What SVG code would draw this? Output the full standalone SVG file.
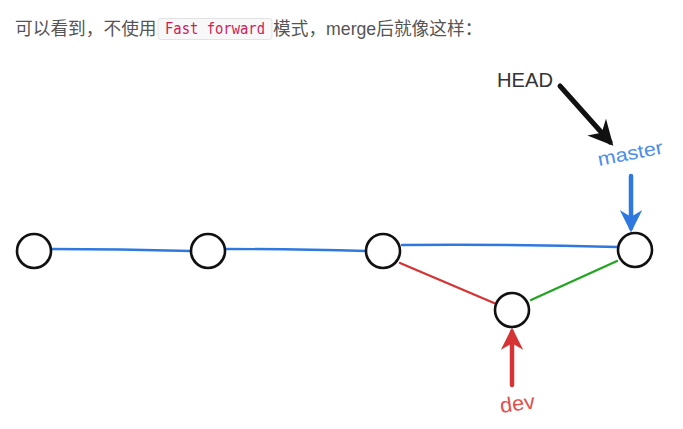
<svg xmlns="http://www.w3.org/2000/svg" width="683" height="429" viewBox="0 0 683 429">
<style>
.hdr{font-family:"Liberation Sans","Noto Sans CJK SC",sans-serif;font-size:17.7px;fill:#555}
.code{font-family:"DejaVu Sans Mono","Liberation Mono",monospace;font-size:15px;fill:#d01a56}
.node{fill:#fff;stroke:#111;stroke-width:2.6}
.blue{stroke:#2f78e0;stroke-width:2.4;fill:none;stroke-linecap:round}
.red{stroke:#d63434;stroke-width:2.4;fill:none;stroke-linecap:round}
.green{stroke:#22a622;stroke-width:2.4;fill:none;stroke-linecap:round}
.lbl{font-family:"Liberation Sans",sans-serif}
</style>
<defs>
<marker id="ahBlack" viewBox="0 0 10 10" refX="8" refY="5" markerWidth="5" markerHeight="5" orient="auto" markerUnits="strokeWidth"><path d="M0,0 L10,5 L0,10 L3,5 Z" fill="#111"/></marker>
<marker id="ahBlue" viewBox="0 0 10 10" refX="8" refY="5" markerWidth="5" markerHeight="5" orient="auto" markerUnits="strokeWidth"><path d="M0,0 L10,5 L0,10 L3,5 Z" fill="#2f78e0"/></marker>
<marker id="ahRed" viewBox="0 0 10 10" refX="8" refY="5" markerWidth="5" markerHeight="5" orient="auto" markerUnits="strokeWidth"><path d="M0,0 L10,5 L0,10 L3,5 Z" fill="#d63434"/></marker>
</defs>
<rect width="683" height="429" fill="#fff"/>
<g id="header">
<text class="hdr" x="15" y="35">可以看到，不使用</text>
<rect x="158" y="18.5" width="114" height="21" rx="3" fill="#f8f8f8" stroke="#e3e3e3"/>
<text class="code" x="165" y="34" textLength="100" lengthAdjust="spacingAndGlyphs">Fast forward</text>
<text class="hdr" x="273" y="35">模式，merge后就像这样：</text>
</g>
<g id="connectors">
<path class="blue" d="M51,249 Q120,249 191,251"/>
<path class="blue" d="M226,249 Q300,249 366,251"/>
<path class="blue" d="M402,245 Q510,244 617,247"/>
<path class="red" d="M400,263 L494,303"/>
<path class="green" d="M531,300 L617,261"/>
<path d="M560,86 L610,142" stroke="#111" stroke-width="5" fill="none" stroke-linecap="round" marker-end="url(#ahBlack)"/>
<path d="M631,176 L631,228" stroke="#2f78e0" stroke-width="4.5" fill="none" stroke-linecap="round" marker-end="url(#ahBlue)"/>
<path d="M512,385 L512,332" stroke="#d63434" stroke-width="4.5" fill="none" stroke-linecap="round" marker-end="url(#ahRed)"/>
</g>
<g id="c1"><circle class="node" cx="34" cy="251" r="17"/></g>
<g id="c2"><circle class="node" cx="208" cy="251" r="17"/></g>
<g id="c3"><circle class="node" cx="383" cy="251" r="17"/></g>
<g id="c4"><circle class="node" cx="512" cy="310" r="17"/></g>
<g id="c5"><circle class="node" cx="635" cy="250" r="17"/></g>
<g id="head"><text class="lbl" x="497" y="87" font-size="20" fill="#333" textLength="56" lengthAdjust="spacingAndGlyphs">HEAD</text></g>
<g id="master"><text class="lbl" x="599" y="166" font-size="19" fill="#4a8de8" transform="rotate(-11 599 166)" textLength="66" lengthAdjust="spacingAndGlyphs">master</text></g>
<g id="dev"><text class="lbl" x="501" y="413" font-size="21" fill="#e0504e" transform="rotate(-8 501 413)" textLength="35" lengthAdjust="spacingAndGlyphs">dev</text></g>
</svg>
